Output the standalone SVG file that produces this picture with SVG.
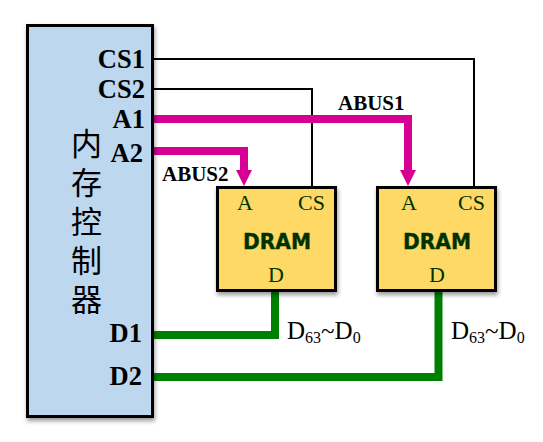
<svg xmlns="http://www.w3.org/2000/svg" width="543" height="442" viewBox="0 0 543 442">
<style>
text{font-family:"Liberation Serif","Noto Sans CJK SC",serif}
.box{stroke:#000;stroke-width:3;filter:url(#sh)}
.sig{font-size:26.500px;font-weight:bold;fill:#000;text-anchor:end}
.bus{font-size:21px;font-weight:bold;fill:#000}
.pin{font-size:22px;fill:#003300}
.title{font-family:"DejaVu Sans","Liberation Sans",sans-serif;font-size:21px;font-weight:bold;fill:#003300;stroke:#003300;stroke-width:.4}
.cjk{font-family:"Noto Sans CJK SC",sans-serif;font-size:31px;fill:#000}
.w{font-size:25px;fill:#000}
.s{font-size:16px}
.thin{fill:none;stroke:#000;stroke-width:2}
.mag{fill:none;stroke:#D60093;stroke-width:8}
.grn{fill:none;stroke:#008000;stroke-width:8}
</style>
<defs>
<filter id="sh" x="-10%" y="-10%" width="120%" height="120%"><feDropShadow dx="1" dy="3" stdDeviation="2" flood-color="#000" flood-opacity=".4"/></filter>
</defs>
<g id="connectors">
<path class="thin" d="M154 59H474V186"/>
<path class="thin" d="M154 89H312V186"/>
<path class="mag" d="M154 119H408V171"/>
<polygon points="400,170 416,170 408,186" fill="#D60093"/>
<path class="mag" d="M154 151H244V171"/>
<polygon points="236,170 252,170 244,186" fill="#D60093"/>
<path class="grn" d="M154 335H275V291"/>
<path class="grn" d="M154 377H438.500V291"/>
</g>
<g id="controller">
<rect class="box" x="27.500" y="25.500" width="125" height="391" fill="#BDD7EE"/>
<text class="sig" x="145" y="68">CS1</text>
<text class="sig" x="145" y="98">CS2</text>
<text class="sig" x="145" y="128">A1</text>
<text class="sig" x="143" y="162">A2</text>
<text class="sig" x="142" y="342">D1</text>
<text class="sig" x="142" y="385">D2</text>
<text class="cjk" x="71 71 71 71 71" y="155 194 233 272 311">内存控制器</text>
</g>
<g id="dram2">
<rect class="box" x="217.500" y="187.500" width="118" height="103" fill="#FFD966"/>
<text class="pin" x="237" y="210">A</text>
<text class="pin" x="298" y="210">CS</text>
<text class="title" x="243" y="249" textLength="68" lengthAdjust="spacingAndGlyphs">DRAM</text>
<text class="pin" x="268" y="282">D</text>
</g>
<g id="dram1">
<rect class="box" x="377.500" y="187.500" width="118" height="103" fill="#FFD966"/>
<text class="pin" x="401" y="210">A</text>
<text class="pin" x="458" y="210">CS</text>
<text class="title" x="403" y="249" textLength="68" lengthAdjust="spacingAndGlyphs">DRAM</text>
<text class="pin" x="429" y="282">D</text>
</g>
<g id="labels">
<text class="bus" x="338" y="110">ABUS1</text>
<text class="bus" x="162" y="181">ABUS2</text>
<text class="w" x="287" y="339">D<tspan class="s" dy="4">63</tspan><tspan dy="-4">~D</tspan><tspan class="s" dy="4">0</tspan></text>
<text class="w" x="451" y="339">D<tspan class="s" dy="4">63</tspan><tspan dy="-4">~D</tspan><tspan class="s" dy="4">0</tspan></text>
</g>
</svg>
